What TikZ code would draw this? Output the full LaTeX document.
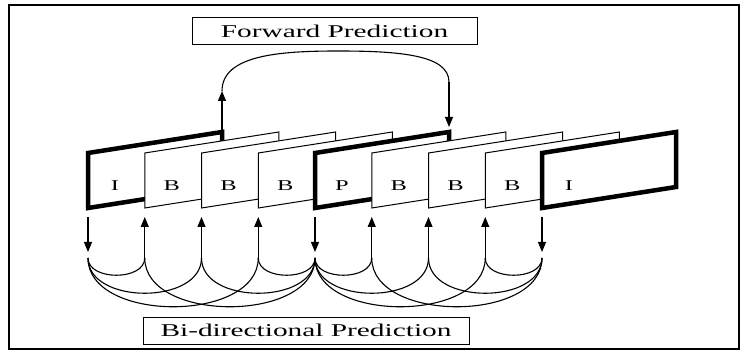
\documentclass[tikz,border=0pt]{standalone}
\usepackage{fontspec}
\usepackage{graphicx}
\setmainfont{Liberation Serif}
\newcommand\widetxt[1]{\scalebox{1.63}[1]{#1}}
\usetikzlibrary{arrows.meta,calc}
\tikzset{
  thickframe/.style={line width=4.5pt,line join=miter,fill=white},
  thinframe/.style={line width=1pt,line join=miter,fill=white},
  lab/.style={font=\fontsize{15}{15}\selectfont,inner sep=0pt},
  arr/.style={line width=1.1pt,-{Triangle[length=10pt,width=8pt]}},
  arc/.style={line width=1.1pt},
  titlebox/.style={draw,line width=1pt,minimum height=27pt,inner sep=0pt,font=\fontsize{18}{18}\selectfont}
}
\begin{document}
\begin{tikzpicture}[x=1pt,y=-1pt]
\useasboundingbox (0,0) rectangle (742,358);
% outer border
\draw[line width=2pt] (9,5) rectangle (739,349);
% frames
\foreach \i/\t/\l in {0/thickframe/I,1/thinframe/B,2/thinframe/B,3/thinframe/B,4/thickframe/P,5/thinframe/B,6/thinframe/B,7/thinframe/B,8/thickframe/I}{
  \pgfmathsetmacro\xa{88+56.75*\i}
  \coordinate (f\i) at (\xa,153);
  \coordinate (tr\i) at (\xa+134,132);
  \coordinate (a\i) at (\xa,217);
  \coordinate (d\i) at (\xa,252);
  \coordinate (c\i) at (\xa,258);
  \draw[\t] (f\i) -- ++(0,55) -- ++(134,-21) -- ++(0,-55) -- cycle;
  \node[lab] (l\i) at (\xa+27,186) {\widetxt{\l}};
}
% down arrows (reference frames)
\foreach \i in {0,4,8}{ \draw[arr] (a\i) -- (d\i); }
% up arrows (B frames)
\foreach \i in {1,2,3,5,6,7}{ \draw[arr] (c\i) -- (a\i); }
% bi-directional arcs
\foreach \s/\e/\k in {0/1/23,0/2/47,0/3/65,4/3/23,4/2/47,4/1/65,4/5/23,4/6/47,4/7/65,8/7/23,8/6/47,8/5/65}{
  \draw[arc] (c\s) .. controls +(0,\k) and +(0,\k) .. (c\e);
}
% forward prediction
\coordinate (ut) at (222,91);
\coordinate (fs) at (449,82);
\coordinate (ft) at (449,127);
\draw[arr] (tr0) -- (ut);
\draw[arc] (ut) .. controls (222,55) and (280,51) .. (338,51) .. controls (400,51) and (449,55) .. (fs);
\draw[arr] (fs) -- (ft);
% labels
\node[titlebox,minimum width=285pt] (fwd) at (334.5,31.5) {\widetxt{Forward Prediction}};
\node[titlebox,minimum width=326pt] (bid) at (306,330.5) {\widetxt{Bi-directional Prediction}};
\end{tikzpicture}
\end{document}
